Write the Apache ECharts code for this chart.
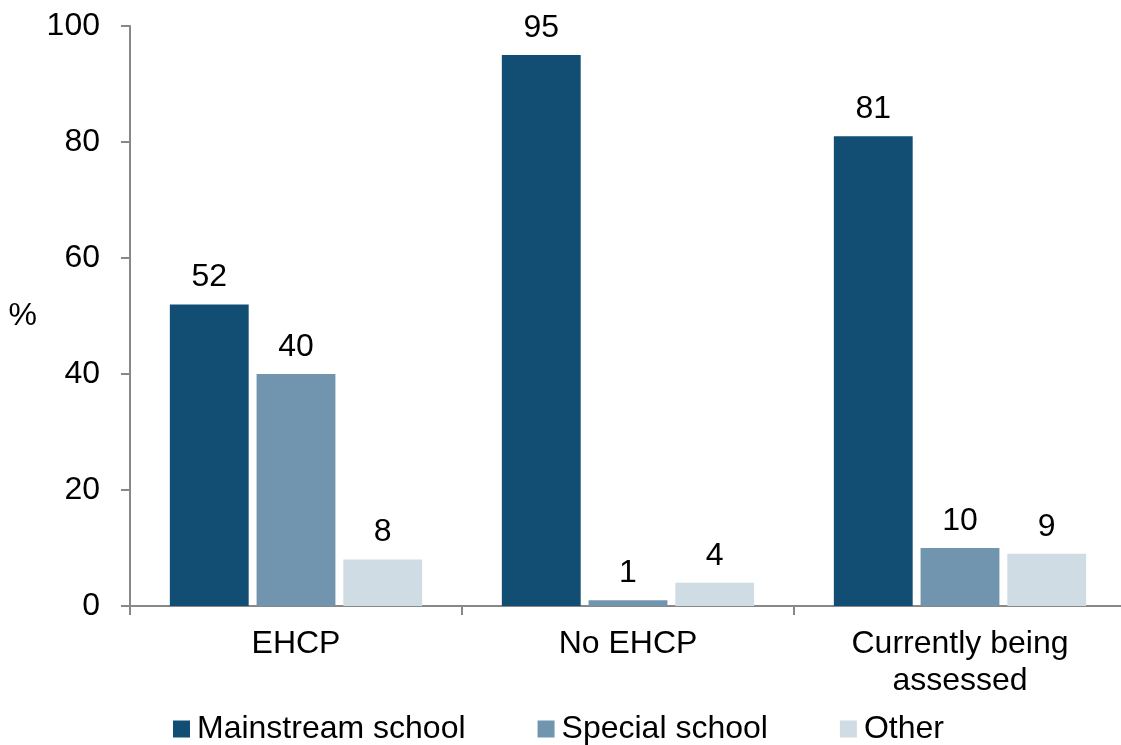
<!DOCTYPE html>
<html>
<head>
<meta charset="utf-8">
<script src="https://cdn.jsdelivr.net/npm/echarts@6/dist/echarts.min.js"></script>
<style>
  html, body { margin: 0; padding: 0; background: #fff; }
  #chart { width: 1121px; height: 745px; }
</style>
</head>
<body>
<div id="chart"></div>
<script>
// Placement of pupils by EHCP status (%)
const categories = ['EHCP', 'No EHCP', 'Currently being\nassessed'];
const mainstream = [52, 95, 81];
const special = [40, 1, 10];
const other = [8, 4, 9];
const seriesNames = ['Mainstream school', 'Special school', 'Other'];
const yTicks = { min: 0, max: 100, interval: 20 };

const FONT = '"Liberation Sans", Arial, sans-serif';
const FS = 32;
const colors = ['#124E74', '#7295AF', '#CFDCE4'];

const chart = echarts.init(document.getElementById('chart'), null, { renderer: 'canvas' });

function barSeries(name, data, color) {
  return {
    name: name,
    type: 'bar',
    data: data,
    barGap: '10%',
    barCategoryGap: '24%',
    itemStyle: { color: color },
    label: {
      show: true,
      position: 'top',
      distance: 11,
      color: '#000',
      fontSize: FS,
      fontFamily: FONT
    }
  };
}

chart.setOption({
  animation: false,
  backgroundColor: '#fff',
  color: colors,
  grid: { left: 130, top: 26, height: 580, width: 996, outerBoundsMode: 'none' },
  legend: {
    left: 173,
    top: 713,
    padding: 0,
    itemWidth: 17,
    itemHeight: 17,
    itemGap: 72,
    icon: 'rect',
    textStyle: { fontSize: FS, fontFamily: FONT, color: '#000', padding: [0, 0, 0, 2] },
    data: seriesNames
  },
  xAxis: {
    type: 'category',
    data: categories,
    axisLine: { lineStyle: { color: '#888', width: 2 } },
    axisTick: { show: true, length: 9, lineStyle: { color: '#888', width: 2 } },
    axisLabel: { fontSize: FS, fontFamily: FONT, color: '#000', margin: 20, lineHeight: 37 }
  },
  yAxis: {
    type: 'value',
    min: yTicks.min,
    max: yTicks.max,
    interval: yTicks.interval,
    name: '%',
    nameLocation: 'middle',
    nameRotate: 0,
    nameGap: 93,
    nameTextStyle: { fontSize: FS, fontFamily: FONT, color: '#000' },
    splitLine: { show: false },
    axisLine: { show: true, lineStyle: { color: '#888', width: 2 } },
    axisTick: { show: true, length: 9, lineStyle: { color: '#888', width: 2 } },
    axisLabel: { fontSize: FS, fontFamily: FONT, color: '#000', margin: 30 }
  },
  series: [
    barSeries(seriesNames[0], mainstream, colors[0]),
    barSeries(seriesNames[1], special, colors[1]),
    barSeries(seriesNames[2], other, colors[2])
  ]
});
</script>
</body>
</html>
